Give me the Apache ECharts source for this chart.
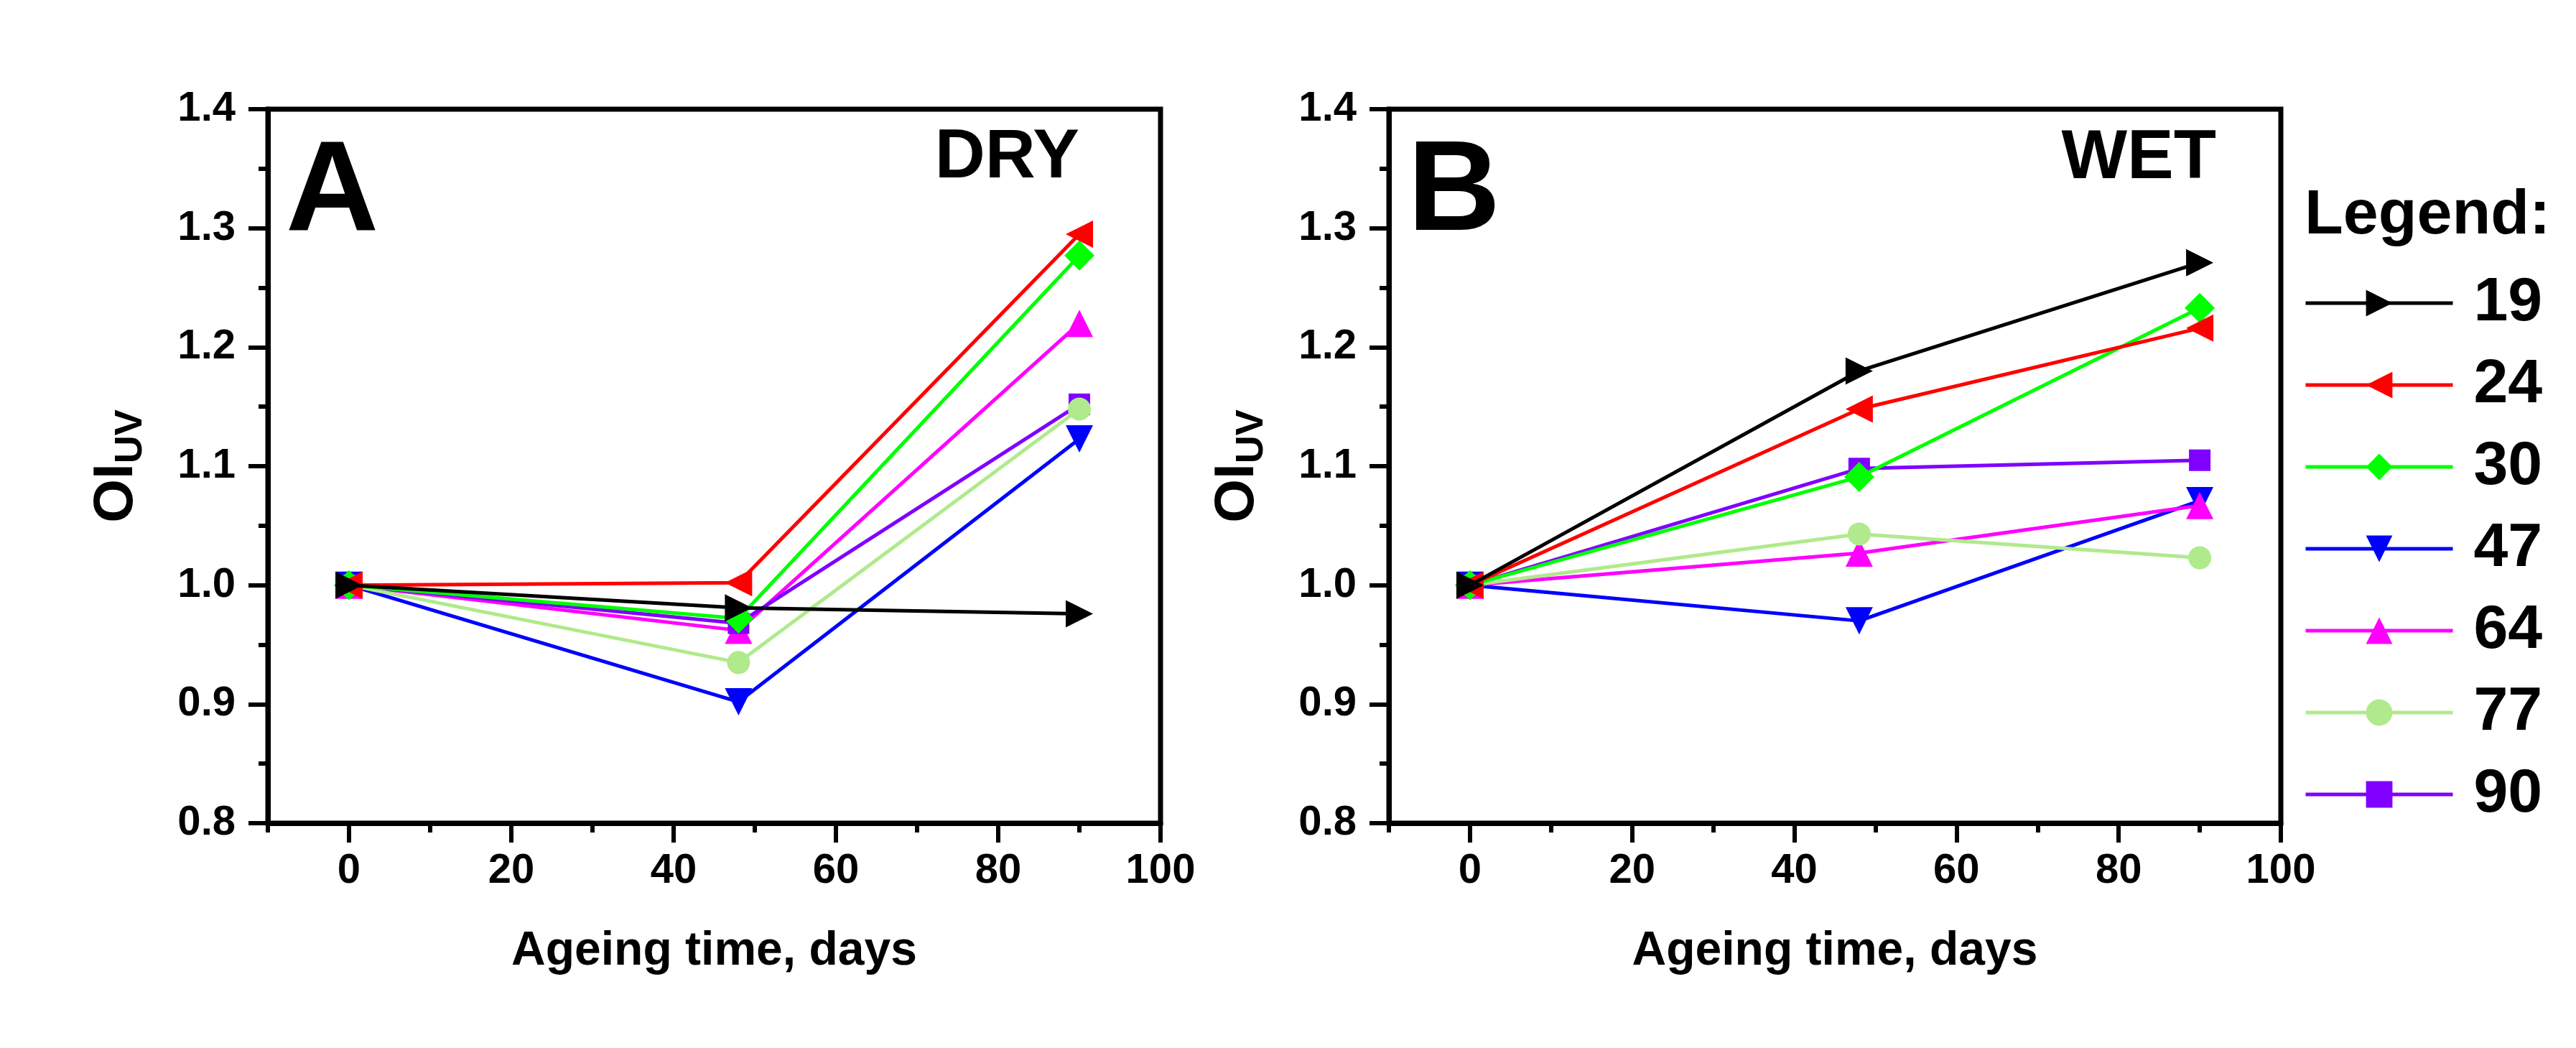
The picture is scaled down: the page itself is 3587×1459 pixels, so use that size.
<!DOCTYPE html>
<html>
<head>
<meta charset="utf-8">
<script src="https://cdn.jsdelivr.net/npm/echarts@6/dist/echarts.min.js"></script>
<style>
html,body{margin:0;padding:0;background:#fff;}
#chart{width:3587px;height:1459px;}
</style>
</head>
<body>
<div id="chart"></div>
<script>
// ---- data ----
const days = [0, 48, 90];
const seriesNames = ['19', '24', '30', '47', '64', '77', '90'];

const dry19 = [1.000, 0.981, 0.976];
const dry24 = [1.000, 1.002, 1.295];
const dry30 = [1.000, 0.972, 1.277];
const dry47 = [1.000, 0.902, 1.123];
const dry64 = [1.000, 0.962, 1.220];
const dry77 = [1.000, 0.935, 1.148];
const dry90 = [1.000, 0.968, 1.152];

const wet19 = [1.000, 1.180, 1.271];
const wet24 = [1.000, 1.148, 1.216];
const wet30 = [1.000, 1.091, 1.233];
const wet47 = [1.000, 0.970, 1.071];
const wet64 = [1.000, 1.027, 1.067];
const wet77 = [1.000, 1.043, 1.023];
const wet90 = [1.000, 1.098, 1.105];

const xMajorTicks = [0, 20, 40, 60, 80, 100];
const xMinorTicks = [-10, 10, 30, 50, 70, 90];

// ---- styling ----
const FONT = "'Liberation Sans', Arial, sans-serif";
const styles = {
  '19': {color: '#000000', symbol: 'triangle', rotate: -90, size: 38, z: 12},
  '24': {color: '#ff0000', symbol: 'triangle', rotate: 90, size: 38, z: 11},
  '30': {color: '#00ff00', symbol: 'diamond', rotate: 0, size: 42, z: 10},
  '47': {color: '#0000ff', symbol: 'triangle', rotate: 180, size: 38, z: 6},
  '64': {color: '#ff00ff', symbol: 'triangle', rotate: 0, size: 38, z: 7},
  '77': {color: '#b0ea8c', symbol: 'circle', rotate: 0, size: 32, z: 9},
  '90': {color: '#8000ff', symbol: 'rect', rotate: 0, size: 30, z: 8}
};
const dryData = [dry19, dry24, dry30, dry47, dry64, dry77, dry90];
const wetData = [wet19, wet24, wet30, wet47, wet64, wet77, wet90];

const grids = [
  {left: 373, top: 152, width: 1243, height: 994, show: true, borderColor: '#000', borderWidth: 7, backgroundColor: '#fff'},
  {left: 1934, top: 152, width: 1242, height: 994, show: true, borderColor: '#000', borderWidth: 7, backgroundColor: '#fff'}
];

function mainX(gi) {
  return {
    type: 'value', gridIndex: gi, min: -10, max: 100, position: 'bottom',
    name: 'Ageing time, days', nameLocation: 'middle', nameGap: 146,
    nameTextStyle: {fontFamily: FONT, fontWeight: 'bold', fontSize: 66, color: '#000'},
    axisLine: {show: true, onZero: false, lineStyle: {color: '#000', width: 7}},
    axisTick: {show: true, inside: false, length: 27, customValues: xMajorTicks, lineStyle: {color: '#000', width: 6}},
    axisLabel: {show: true, customValues: xMajorTicks, margin: 38, fontFamily: FONT, fontWeight: 'bold', fontSize: 58, color: '#000'},
    splitLine: {show: false}
  };
}
function minorX(gi) {
  return {
    type: 'value', gridIndex: gi, min: -10, max: 100, position: 'bottom',
    axisLine: {show: false, onZero: false},
    axisTick: {show: true, inside: false, length: 13, customValues: xMinorTicks, lineStyle: {color: '#000', width: 6}},
    axisLabel: {show: false},
    splitLine: {show: false}
  };
}
function mainY(gi) {
  return {
    type: 'value', gridIndex: gi, min: 0.8, max: 1.4, interval: 0.1, position: 'left',
    name: '{a|OI}{b|UV}', nameLocation: 'middle', nameGap: 172, nameRotate: 90,
    nameTextStyle: {
      color: '#000',
      rich: {
        a: {fontFamily: FONT, fontWeight: 'bold', fontSize: 78, lineHeight: 78, verticalAlign: 'top', color: '#000'},
        b: {fontFamily: FONT, fontWeight: 'bold', fontSize: 54, lineHeight: 54, padding: [40, 0, 0, 0], color: '#000'}
      }
    },
    axisLine: {show: true, onZero: false, lineStyle: {color: '#000', width: 7}},
    axisTick: {show: true, inside: false, length: 27, lineStyle: {color: '#000', width: 6}},
    minorTick: {show: true, splitNumber: 2, length: 13, lineStyle: {color: '#000', width: 6}},
    axisLabel: {show: true, margin: 45, fontFamily: FONT, fontWeight: 'bold', fontSize: 58, color: '#000',
      formatter: v => v.toFixed(1)},
    splitLine: {show: false},
    minorSplitLine: {show: false}
  };
}

const series = [];
function addSeries(dataSets, xIdx, yIdx) {
  seriesNames.forEach((name, i) => {
    const st = styles[name];
    series.push({
      type: 'line', name: name, xAxisIndex: xIdx, yAxisIndex: yIdx,
      data: days.map((d, k) => [d, dataSets[i][k]]),
      symbol: st.symbol, symbolSize: st.size, symbolRotate: st.rotate, showSymbol: true,
      lineStyle: {color: st.color, width: 5},
      itemStyle: {color: st.color},
      z: st.z,
      emphasis: {disabled: true},
      animation: false
    });
  });
}
addSeries(dryData, 0, 0);
addSeries(wetData, 2, 1);

const option = {
  backgroundColor: '#ffffff',
  animation: false,
  grid: grids,
  xAxis: [mainX(0), minorX(0), mainX(1), minorX(1)],
  yAxis: [mainY(0), mainY(1)],
  legend: {
    data: seriesNames,
    orient: 'vertical', left: 3203, top: 374,
    itemWidth: 205, itemHeight: 46, itemGap: 28,
    selectedMode: false,
    lineStyle: {width: 5},
    textStyle: {fontFamily: FONT, fontWeight: 'bold', fontSize: 86, lineHeight: 86, color: '#000', padding: [0, 0, 0, 24]}
  },
  graphic: [
    {type: 'text', x: 398, y: 271, style: {text: 'A', fontFamily: FONT, fontWeight: 'bold', fontSize: 179, fill: '#000', align: 'left', verticalAlign: 'middle'}},
    {type: 'text', x: 1503, y: 220, style: {text: 'DRY', fontFamily: FONT, fontWeight: 'bold', fontSize: 97, fill: '#000', align: 'right', verticalAlign: 'middle'}},
    {type: 'text', x: 1960, y: 271, style: {text: 'B', fontFamily: FONT, fontWeight: 'bold', fontSize: 179, fill: '#000', align: 'left', verticalAlign: 'middle'}},
    {type: 'text', x: 3086, y: 221, style: {text: 'WET', fontFamily: FONT, fontWeight: 'bold', fontSize: 97, fill: '#000', align: 'right', verticalAlign: 'middle'}},
    {type: 'text', x: 3209, y: 301, style: {text: 'Legend:', fontFamily: FONT, fontWeight: 'bold', fontSize: 88, fill: '#000', align: 'left', verticalAlign: 'middle'}}
  ],
  series: series
};

const chart = echarts.init(document.getElementById('chart'), null, {renderer: 'canvas'});
chart.setOption(option);
</script>
</body>
</html>
